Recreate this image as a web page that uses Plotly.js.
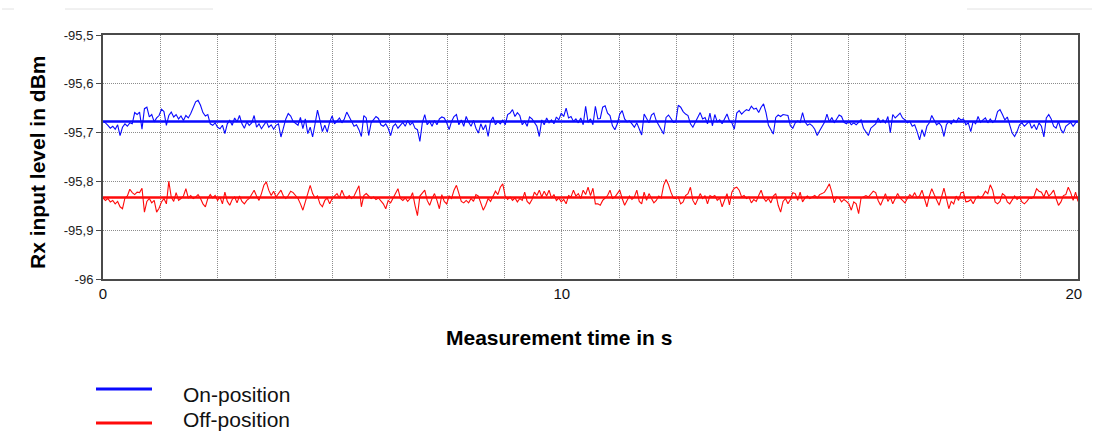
<!DOCTYPE html>
<html>
<head>
<meta charset="utf-8">
<script src="https://cdn.plot.ly/plotly-3.0.1.min.js"></script>
<style>html,body{margin:0;padding:0;background:#fff;}#chart{width:1094px;height:432px;}</style>
</head>
<body>
<div id="chart"></div>
<script>
// ---- data ----
const sampleInterval = 0.05; // s
const onPosition = [
-95.677,-95.680,-95.685,-95.691,-95.687,-95.693,-95.684,-95.706,-95.689,-95.682,-95.687,-95.680,-95.682,
-95.659,-95.663,-95.658,-95.693,-95.651,-95.648,-95.668,-95.663,-95.678,-95.670,-95.665,-95.652,-95.657,
-95.685,-95.665,-95.658,-95.668,-95.663,-95.672,-95.666,-95.675,-95.665,-95.670,-95.661,-95.648,-95.637,
-95.634,-95.644,-95.659,-95.666,-95.663,-95.682,-95.685,-95.680,-95.689,-95.692,-95.685,-95.702,-95.682,
-95.675,-95.685,-95.670,-95.678,-95.665,-95.682,-95.691,-95.678,-95.685,-95.680,-95.665,-95.689,-95.682,
-95.692,-95.685,-95.677,-95.689,-95.684,-95.693,-95.685,-95.682,-95.709,-95.691,-95.672,-95.661,-95.666,
-95.677,-95.682,-95.685,-95.669,-95.692,-95.672,-95.702,-95.689,-95.709,-95.682,-95.654,-95.675,-95.698,
-95.685,-95.699,-95.678,-95.666,-95.682,-95.675,-95.670,-95.680,-95.672,-95.658,-95.668,
-95.680,-95.687,-95.684,-95.694,-95.708,-95.665,-95.670,-95.706,-95.680,-95.674,-95.667,-95.671,-95.684,
-95.687,-95.682,-95.691,-95.706,-95.687,-95.682,-95.691,-95.684,-95.679,-95.687,-95.675,-95.684,-95.679,
-95.691,-95.694,-95.718,-95.680,-95.663,-95.684,-95.677,-95.687,-95.675,-95.684,-95.672,-95.668,-95.670,
-95.680,-95.694,-95.677,-95.667,-95.663,-95.684,-95.674,-95.687,-95.667,-95.679,-95.687,-95.675,-95.691,
-95.701,-95.682,-95.694,-95.684,-95.708,-95.677,-95.668,-95.684,-95.677,-95.682,-95.674,-95.684,-95.663,
-95.660,-95.653,-95.667,-95.659,-95.665,-95.684,-95.677,-95.687,-95.668,-95.672,-95.679,-95.687,-95.708,
-95.674,-95.684,-95.670,-95.680,-95.674,-95.682,-95.668,-95.674,-95.660,-95.667,-95.650,-95.670,-95.667,
-95.677,-95.672,-95.680,-95.670,-95.684,-95.646,-95.679,-95.672,-95.684,-95.646,
-95.672,-95.671,-95.648,-95.645,-95.660,-95.665,-95.686,-95.694,-95.682,-95.662,-95.655,-95.672,-95.678,
-95.676,-95.682,-95.689,-95.680,-95.693,-95.705,-95.662,-95.672,-95.680,-95.664,-95.660,-95.676,-95.686,
-95.693,-95.703,-95.669,-95.664,-95.671,-95.679,-95.678,-95.644,-95.648,-95.657,-95.662,-95.665,-95.682,
-95.689,-95.679,-95.667,-95.659,-95.672,-95.669,-95.682,-95.660,-95.686,-95.663,-95.678,-95.674,-95.682,
-95.672,-95.662,-95.676,-95.680,-95.693,-95.660,-95.655,-95.662,-95.657,-95.653,-95.655,-95.646,-95.652,
-95.650,-95.659,-95.648,-95.641,-95.659,-95.685,-95.693,-95.703,-95.669,-95.664,-95.667,-95.663,-95.664,
-95.665,-95.686,-95.691,-95.680,-95.676,-95.679,-95.659,-95.678,-95.685,-95.682,-95.686,-95.693,-95.706,
-95.696,-95.686,-95.679,-95.662,-95.678,-95.669,-95.680,-95.672,-95.664,
-95.667,-95.679,-95.682,-95.677,-95.684,-95.680,-95.684,-95.679,-95.674,-95.691,-95.698,-95.706,-95.691,
-95.687,-95.682,-95.670,-95.679,-95.674,-95.680,-95.667,-95.700,-95.663,-95.670,-95.665,-95.660,-95.670,
-95.674,-95.680,-95.677,-95.687,-95.684,-95.698,-95.715,-95.694,-95.708,-95.687,-95.680,-95.665,-95.674,
-95.684,-95.680,-95.687,-95.708,-95.684,-95.677,-95.682,-95.674,-95.679,-95.670,-95.674,-95.672,-95.684,
-95.680,-95.698,-95.677,-95.682,-95.667,-95.679,-95.674,-95.670,-95.680,-95.672,-95.679,-95.675,-95.657,
-95.653,-95.663,-95.674,-95.668,-95.687,-95.701,-95.708,-95.698,-95.684,-95.680,-95.687,-95.682,-95.677,
-95.691,-95.684,-95.694,-95.680,-95.687,-95.709,-95.670,-95.663,-95.672,-95.687,-95.691,-95.677,-95.694,
-95.701,-95.687,-95.682,-95.679,-95.687,-95.680,-95.677
];
const offPosition = [
-95.834,-95.839,-95.835,-95.842,-95.839,-95.846,-95.841,-95.852,-95.856,-95.834,-95.830,-95.816,-95.823,
-95.827,-95.822,-95.823,-95.814,-95.863,-95.841,-95.835,-95.844,-95.839,-95.863,-95.855,-95.842,-95.835,
-95.846,-95.800,-95.832,-95.841,-95.823,-95.839,-95.835,-95.830,-95.815,-95.834,-95.829,-95.835,-95.832,
-95.827,-95.835,-95.846,-95.852,-95.835,-95.827,-95.834,-95.829,-95.839,-95.832,-95.846,-95.822,-95.841,
-95.849,-95.837,-95.832,-95.844,-95.830,-95.841,-95.846,-95.839,-95.835,-95.825,-95.818,-95.830,-95.839,
-95.825,-95.808,-95.801,-95.818,-95.829,-95.820,-95.832,-95.825,-95.818,-95.830,-95.835,-95.829,-95.820,
-95.823,-95.830,-95.835,-95.846,-95.859,-95.842,-95.823,-95.808,-95.825,-95.834,-95.830,-95.846,-95.852,
-95.839,-95.834,-95.846,-95.835,-95.830,-95.825,-95.834,-95.818,-95.830,-95.835,-95.829,
-95.835,-95.830,-95.818,-95.809,-95.852,-95.829,-95.825,-95.830,-95.835,-95.832,-95.837,-95.834,-95.841,
-95.846,-95.856,-95.839,-95.844,-95.834,-95.822,-95.815,-95.835,-95.839,-95.834,-95.841,-95.835,-95.823,
-95.849,-95.870,-95.830,-95.825,-95.818,-95.839,-95.849,-95.835,-95.825,-95.839,-95.856,-95.827,-95.841,
-95.846,-95.830,-95.835,-95.818,-95.808,-95.827,-95.841,-95.844,-95.839,-95.844,-95.835,-95.841,-95.827,
-95.830,-95.846,-95.859,-95.849,-95.835,-95.841,-95.829,-95.820,-95.827,-95.812,-95.805,-95.830,-95.837,
-95.832,-95.839,-95.834,-95.842,-95.835,-95.839,-95.822,-95.841,-95.846,-95.837,-95.822,-95.829,-95.818,
-95.832,-95.820,-95.830,-95.818,-95.834,-95.827,-95.839,-95.834,-95.842,-95.837,-95.846,-95.829,-95.832,
-95.818,-95.830,-95.825,-95.835,-95.818,-95.827,-95.812,-95.829,-95.814,-95.846,
-95.846,-95.849,-95.839,-95.834,-95.829,-95.818,-95.835,-95.832,-95.825,-95.818,-95.835,-95.849,-95.839,
-95.830,-95.837,-95.832,-95.818,-95.841,-95.846,-95.822,-95.839,-95.825,-95.835,-95.844,-95.839,-95.830,
-95.834,-95.808,-95.796,-95.807,-95.822,-95.834,-95.835,-95.832,-95.846,-95.842,-95.829,-95.825,-95.812,
-95.839,-95.848,-95.835,-95.825,-95.835,-95.829,-95.846,-95.829,-95.832,-95.829,-95.839,-95.834,-95.852,
-95.839,-95.825,-95.848,-95.822,-95.814,-95.812,-95.818,-95.832,-95.829,-95.835,-95.832,-95.844,-95.837,
-95.841,-95.829,-95.818,-95.834,-95.841,-95.835,-95.844,-95.830,-95.825,-95.849,-95.863,-95.841,-95.835,
-95.846,-95.837,-95.823,-95.825,-95.839,-95.822,-95.842,-95.834,-95.830,-95.835,-95.832,-95.829,-95.834,
-95.827,-95.825,-95.822,-95.814,-95.805,-95.822,-95.844,-95.832,-95.834,
-95.842,-95.837,-95.841,-95.846,-95.859,-95.842,-95.846,-95.866,-95.834,-95.832,-95.829,-95.832,-95.825,
-95.820,-95.823,-95.839,-95.849,-95.835,-95.825,-95.841,-95.832,-95.846,-95.834,-95.825,-95.834,-95.839,
-95.844,-95.835,-95.827,-95.832,-95.823,-95.834,-95.830,-95.818,-95.835,-95.852,-95.830,-95.815,-95.827,
-95.837,-95.849,-95.832,-95.814,-95.835,-95.856,-95.841,-95.846,-95.830,-95.839,-95.823,-95.822,-95.842,
-95.841,-95.837,-95.846,-95.835,-95.830,-95.834,-95.829,-95.820,-95.825,-95.807,-95.818,-95.842,-95.846,
-95.841,-95.825,-95.829,-95.842,-95.846,-95.839,-95.830,-95.837,-95.832,-95.842,-95.846,-95.841,-95.834,
-95.835,-95.830,-95.815,-95.820,-95.822,-95.832,-95.818,-95.830,-95.825,-95.818,-95.835,-95.849,-95.842,
-95.829,-95.827,-95.812,-95.823,-95.839,-95.822,-95.841
];
const meanLevels = [-95.677, -95.833];      // On-position, Off-position
const seriesNames = ['On-position', 'Off-position'];
const timeRange = [0, 20];
const xGridDivisions = 17;
const xTickLabels = ['0', '10', '20\u00a0\u00a0'];
const xTickGridIndex = [0, 8, 17];
const yTickValues = [-96, -95.9, -95.8, -95.7, -95.6, -95.5];
const yTickLabels = ['-96', '-95,9', '-95,8', '-95,7', '-95,6', '-95,5'];
const xTitle = 'Measurement time in s';
const yTitle = 'Rx input level in dBm';

// ---- build ----
const time = onPosition.map((_, i) => i * sampleInterval);
const FONT = 'Liberation Sans, Arial, Helvetica, sans-serif';
const BLUE = '#0a0aff', RED = '#ff0a0a';

const xTickVals = [], xTickText = [];
for (let g = 0; g <= xGridDivisions; g++) {
  xTickVals.push(timeRange[0] + g * (timeRange[1] - timeRange[0]) / xGridDivisions);
  const k = xTickGridIndex.indexOf(g);
  xTickText.push(k >= 0 ? xTickLabels[k] : '');
}

const traces = [
  {x: time, y: onPosition, type: 'scatter', mode: 'lines', name: seriesNames[0],
   line: {color: BLUE, width: 1.1}, showlegend: false, hoverinfo: 'x+y'},
  {x: time, y: offPosition, type: 'scatter', mode: 'lines', name: seriesNames[1],
   line: {color: RED, width: 1.1}, showlegend: false, hoverinfo: 'x+y'},
  {x: timeRange, y: [meanLevels[0], meanLevels[0]], type: 'scatter', mode: 'lines',
   line: {color: BLUE, width: 2.5}, showlegend: false, hoverinfo: 'skip'},
  {x: timeRange, y: [meanLevels[1], meanLevels[1]], type: 'scatter', mode: 'lines',
   line: {color: RED, width: 2.5}, showlegend: false, hoverinfo: 'skip'}
];

// plot area in pixels: x 103..1078, y 35..279
const L = 103, R = 1078, T = 35, B = 279;
const px = x => (x - L) / (R - L);
const py = y => (B - y) / (B - T);

const layout = {
  width: 1094, height: 432,
  margin: {l: L, r: 1094 - R, t: T, b: 432 - B, pad: 0},
  paper_bgcolor: '#ffffff', plot_bgcolor: '#ffffff',
  font: {family: FONT, color: '#111'},
  showlegend: false,
  xaxis: {
    range: timeRange, tickmode: 'array', tickvals: xTickVals, ticktext: xTickText,
    showgrid: true, gridcolor: '#8c8c8c', griddash: '1px,1px', gridwidth: 1,
    zeroline: false, showline: true, mirror: true, linecolor: '#4a4a4a', linewidth: 2,
    ticks: '', tickfont: {family: FONT, size: 15, color: '#111'}, automargin: false
  },
  yaxis: {
    range: [yTickValues[0], yTickValues[yTickValues.length - 1]],
    tickmode: 'array', tickvals: yTickValues, ticktext: yTickLabels,
    showgrid: true, gridcolor: '#8c8c8c', griddash: '1px,1px', gridwidth: 1,
    zeroline: false, showline: true, mirror: true, linecolor: '#4a4a4a', linewidth: 2,
    ticks: 'outside', ticklen: 5, tickwidth: 1, tickcolor: '#4a4a4a',
    tickfont: {family: FONT, size: 13, color: '#222'}, automargin: false
  },
  annotations: [
    {text: '<b>' + xTitle + '</b>', xref: 'paper', yref: 'paper', x: px(559), y: py(337),
     xanchor: 'center', yanchor: 'middle', showarrow: false, font: {family: FONT, size: 21, color: '#000'}},
    {text: '<b>' + yTitle + '</b>', xref: 'paper', yref: 'paper', x: px(37), y: py(162),
     xanchor: 'center', yanchor: 'middle', textangle: -90, showarrow: false, font: {family: FONT, size: 21, color: '#000'}},
    {text: seriesNames[0], xref: 'paper', yref: 'paper', x: px(181), y: py(394),
     xanchor: 'left', yanchor: 'middle', showarrow: false, font: {family: FONT, size: 21, color: '#111'}},
    {text: seriesNames[1], xref: 'paper', yref: 'paper', x: px(181), y: py(419),
     xanchor: 'left', yanchor: 'middle', showarrow: false, font: {family: FONT, size: 21, color: '#111'}}
  ],
  shapes: [
    {type: 'line', xref: 'paper', yref: 'paper', x0: px(96), x1: px(152), y0: py(389), y1: py(389),
     line: {color: BLUE, width: 3}},
    {type: 'line', xref: 'paper', yref: 'paper', x0: px(96), x1: px(152), y0: py(423), y1: py(423),
     line: {color: RED, width: 3}},
    {type: 'line', xref: 'paper', yref: 'paper', x0: px(2), x1: px(14), y0: py(9), y1: py(9),
     line: {color: '#e2e2e2', width: 1}},
    {type: 'line', xref: 'paper', yref: 'paper', x0: px(65), x1: px(213), y0: py(9), y1: py(9),
     line: {color: '#e2e2e2', width: 1}},
    {type: 'line', xref: 'paper', yref: 'paper', x0: px(967), x1: px(1092), y0: py(9), y1: py(9),
     line: {color: '#e2e2e2', width: 1}}
  ]
};

Plotly.newPlot('chart', traces, layout, {staticPlot: true, displayModeBar: false});
</script>
</body>
</html>
